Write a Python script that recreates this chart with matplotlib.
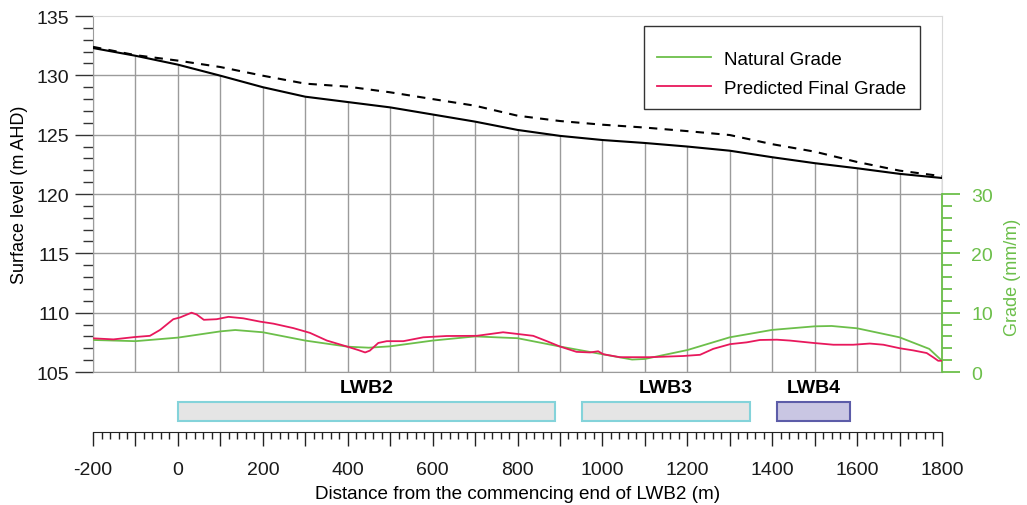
import numpy as np
import matplotlib
matplotlib.use('Agg')
import matplotlib.pyplot as plt
import matplotlib.ticker as mticker
from matplotlib.patches import Rectangle

plt.rcParams['font.family'] = ['Liberation Sans', 'DejaVu Sans']

# surface levels (m AHD)
dist_surface = [-200, -100, 0, 100, 200, 300, 400, 500, 600, 700, 800, 900,
                1000, 1100, 1200, 1300, 1400, 1500, 1600, 1700, 1800]
natural_surface = [132.3, 131.65, 130.9, 129.97, 129.0, 128.2, 127.75, 127.3,
                   126.7, 126.1, 125.4, 124.9, 124.55, 124.3, 124.0, 123.65,
                   123.1, 122.6, 122.17, 121.7, 121.35]
predicted_surface = [132.4, 131.7, 131.24, 130.7, 129.97, 129.3, 129.05, 128.57,
                     128.0, 127.44, 126.6, 126.15, 125.84, 125.6, 125.3, 124.97,
                     124.2, 123.57, 122.7, 121.97, 121.5]

# grades (mm/m)
dist_natural_grade = [-200, -100, 0, 100, 135, 200, 300, 400, 450, 500, 600, 700,
                      800, 900, 1000, 1070, 1100, 1200, 1300, 1400, 1500, 1540,
                      1600, 1700, 1770, 1800]
natural_grade = [5.4, 5.2, 5.8, 6.85, 7.08, 6.7, 5.3, 4.27, 4.1, 4.33, 5.3, 6.0,
                 5.7, 4.3, 3.0, 2.1, 2.2, 3.7, 5.85, 7.1, 7.7, 7.76, 7.37, 5.85,
                 3.9, 1.9]
dist_final_grade = [-200, -152, -101, -66, -42, -11, 5, 32, 44, 61, 91, 119, 154,
                    193, 225, 272, 311, 351, 398, 425, 441, 452, 472, 492, 531,
                    578, 633, 704, 766, 790, 837, 869, 900, 939, 971, 990, 1002,
                    1041, 1112, 1190, 1230, 1261, 1301, 1340, 1371, 1411, 1442,
                    1497, 1544, 1591, 1630, 1662, 1701, 1732, 1764, 1779, 1791,
                    1800]
final_grade = [5.68, 5.5, 5.9, 6.1, 7.1, 8.9, 9.2, 10.0, 9.7, 8.8, 8.9, 9.3, 9.05,
               8.5, 8.15, 7.4, 6.6, 5.3, 4.3, 3.7, 3.3, 3.6, 4.9, 5.2, 5.2, 5.85,
               6.07, 6.1, 6.7, 6.5, 6.1, 5.2, 4.3, 3.4, 3.3, 3.5, 3.0, 2.5, 2.5,
               2.7, 2.9, 3.9, 4.7, 5.0, 5.4, 5.45, 5.3, 4.9, 4.6, 4.6, 4.8, 4.6,
               4.0, 3.65, 3.2, 2.5, 1.9, 1.9]

# longwall panels
panel_names = ['LWB2', 'LWB3', 'LWB4']
panel_start = [0, 952, 1412]
panel_end = [888, 1348, 1584]
panel_face = ['#e5e5e5', '#e5e5e5', '#c9c6e3']
panel_edge = ['#84d3da', '#84d3da', '#5c5ca8']

GREEN = '#6cbf4a'
PINK = '#e8185c'
GRID = '#9b9b9b'

fig = plt.figure(figsize=(10.27, 5.06), dpi=100)
ax = fig.add_axes([0.0906, 0.2628, 0.8266, 0.7036])

ax.set_xlim(-200, 1800)
ax.set_ylim(105, 135)
ax.xaxis.set_major_locator(mticker.MultipleLocator(100))
ax.yaxis.set_major_locator(mticker.MultipleLocator(5))
ax.yaxis.set_minor_locator(mticker.MultipleLocator(1))
ax.grid(True, which='major', color=GRID, lw=1.0, zorder=0)
ax.set_axisbelow(True)
ax.tick_params(axis='x', which='both', bottom=False, labelbottom=False)
ax.tick_params(axis='y', which='major', length=13, width=1, color='#333333',
               labelsize=14, pad=4, labelcolor='#1a1a1a')
ax.tick_params(axis='y', which='minor', length=7, width=1, color='#333333')

# blank out the grid above the natural surface
xs = np.linspace(-200, 1800, 400)
ns = np.interp(xs, dist_surface, natural_surface)
ax.fill_between(xs, ns, 135, color='white', zorder=1, lw=0)

ax.plot(dist_surface, predicted_surface, color='black', lw=1.5,
        dashes=(4, 3.5), zorder=3)
ax.plot(dist_surface, natural_surface, color='black', lw=1.5, zorder=3)

for side in ['top', 'right']:
    ax.spines[side].set_color('#d9d9d9')
ax.spines['left'].set_color(GRID)
ax.spines['bottom'].set_color(GRID)
ax.set_ylabel('Surface level (m AHD)', fontsize=13, labelpad=6)

# grade on the secondary axis
ax2 = ax.twinx()
ax2.set_ylim(0, 60)
ax2.set_yticks([0, 10, 20, 30])
ax2.yaxis.set_minor_locator(mticker.FixedLocator(np.arange(0, 31, 2)))
ax2.spines['right'].set_bounds(0, 30)
ax2.spines['right'].set_color(GREEN)
ax2.spines['right'].set_linewidth(1.3)
for side in ['top', 'left', 'bottom']:
    ax2.spines[side].set_visible(False)
ax2.tick_params(axis='y', which='major', length=13, width=1.3, color=GREEN,
                labelcolor=GREEN, labelsize=14, pad=8)
ax2.tick_params(axis='y', which='minor', length=7, width=1.3, color=GREEN)
ax2.plot(dist_natural_grade, natural_grade, color=GREEN, lw=1.3,
         label='Natural Grade', zorder=4)
ax2.plot(dist_final_grade, final_grade, color=PINK, lw=1.3,
         label='Predicted Final Grade', zorder=4)
ax2.set_ylabel('Grade (mm/m)', color=GREEN, fontsize=13)
ax2.yaxis.set_label_coords(1.073, 0.27)

# legend box, drawn separately so the padding can differ per side
ax2.add_patch(Rectangle((0.649, 0.739), 0.325, 0.233, transform=ax2.transAxes,
                        facecolor='white', edgecolor='#333333', lw=1.0,
                        zorder=5))
leg = ax2.legend(loc='center', bbox_to_anchor=(0.811, 0.838), fontsize=13.5,
                 frameon=False, handlelength=2.9, handletextpad=0.7,
                 borderpad=0.2, labelspacing=0.65, borderaxespad=0)
leg.set_zorder(6)

# panel strip with the distance axis
axp = fig.add_axes([0.0906, 0.1443, 0.8266, 0.1107])
axp.set_xlim(-200, 1800)
axp.set_ylim(0, 1)
for name, x0, x1, fc, ec in zip(panel_names, panel_start, panel_end,
                                panel_face, panel_edge):
    axp.add_patch(Rectangle((x0, 0.196), x1 - x0, 0.34, facecolor=fc,
                            edgecolor=ec, lw=1.5))
    axp.text((x0 + x1) / 2, 0.8, name, ha='center', va='center',
             fontsize=14, fontweight='bold')
for side in ['top', 'left', 'right']:
    axp.spines[side].set_visible(False)
axp.spines['bottom'].set_color('#222222')
axp.set_yticks([])
axp.xaxis.set_major_locator(mticker.MultipleLocator(100))
axp.xaxis.set_minor_locator(mticker.MultipleLocator(20))
axp.xaxis.set_major_formatter(mticker.FuncFormatter(
    lambda v, p: '{:d}'.format(int(round(v))) if round(v) % 200 == 0 else ''))
axp.tick_params(axis='x', which='major', length=10, width=1, color='#222222',
                labelsize=14, pad=11, labelcolor='#1a1a1a')
axp.tick_params(axis='x', which='minor', length=5, width=1, color='#222222')
axp.set_xlabel('Distance from the commencing end of LWB2 (m)', fontsize=13.6,
               labelpad=5)

fig.savefig('out.png', dpi=100)
